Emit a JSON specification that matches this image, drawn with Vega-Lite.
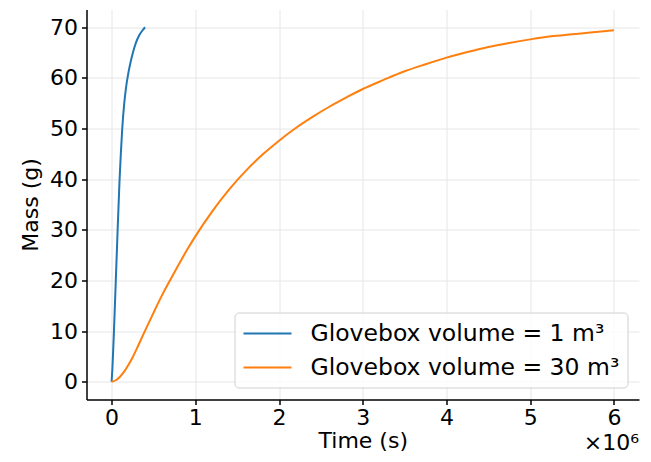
{
  "$schema": "https://vega.github.io/schema/vega-lite/v6.json",
  "width": 552.5,
  "height": 390,
  "autosize": {"type": "none"},
  "padding": {"left": 86.5, "top": 9.5, "right": 12, "bottom": 62.5},
  "background": "white",
  "config": {
    "font": "DejaVu Sans",
    "view": {"stroke": null},
    "axis": {
      "labelFont": "DejaVu Sans", "titleFont": "DejaVu Sans",
      "labelFontSize": 22, "titleFontSize": 22, "titleFontWeight": "normal",
      "labelColor": "#000", "titleColor": "#000",
      "domainColor": "#000", "domainWidth": 1.5,
      "tickColor": "#000", "tickWidth": 1.5, "tickSize": 5,
      "gridColor": "#e6e6e6", "gridWidth": 1
    }
  },
  "datasets": {
    "curves": [
      {"t": 0, "m": 0, "s": "Glovebox volume = 1 m³"},
      {"t": 10000, "m": 2.8, "s": "Glovebox volume = 1 m³"},
      {"t": 28000, "m": 10, "s": "Glovebox volume = 1 m³"},
      {"t": 50000, "m": 20, "s": "Glovebox volume = 1 m³"},
      {"t": 72000, "m": 30, "s": "Glovebox volume = 1 m³"},
      {"t": 94000, "m": 39.5, "s": "Glovebox volume = 1 m³"},
      {"t": 110000, "m": 45, "s": "Glovebox volume = 1 m³"},
      {"t": 127000, "m": 50, "s": "Glovebox volume = 1 m³"},
      {"t": 150000, "m": 54.8, "s": "Glovebox volume = 1 m³"},
      {"t": 170000, "m": 57.8, "s": "Glovebox volume = 1 m³"},
      {"t": 195000, "m": 60.5, "s": "Glovebox volume = 1 m³"},
      {"t": 225000, "m": 63, "s": "Glovebox volume = 1 m³"},
      {"t": 255000, "m": 65, "s": "Glovebox volume = 1 m³"},
      {"t": 290000, "m": 66.9, "s": "Glovebox volume = 1 m³"},
      {"t": 330000, "m": 68.4, "s": "Glovebox volume = 1 m³"},
      {"t": 370000, "m": 69.4, "s": "Glovebox volume = 1 m³"},
      {"t": 400000, "m": 70, "s": "Glovebox volume = 1 m³"},
      {"t": 0, "m": 0, "s": "Glovebox volume = 30 m³"},
      {"t": 50000, "m": 0.3, "s": "Glovebox volume = 30 m³"},
      {"t": 100000, "m": 1.0, "s": "Glovebox volume = 30 m³"},
      {"t": 150000, "m": 2.0, "s": "Glovebox volume = 30 m³"},
      {"t": 200000, "m": 3.3, "s": "Glovebox volume = 30 m³"},
      {"t": 250000, "m": 4.8, "s": "Glovebox volume = 30 m³"},
      {"t": 300000, "m": 6.5, "s": "Glovebox volume = 30 m³"},
      {"t": 350000, "m": 8.3, "s": "Glovebox volume = 30 m³"},
      {"t": 400000, "m": 10.1, "s": "Glovebox volume = 30 m³"},
      {"t": 500000, "m": 13.6, "s": "Glovebox volume = 30 m³"},
      {"t": 600000, "m": 17.0, "s": "Glovebox volume = 30 m³"},
      {"t": 700000, "m": 20.1, "s": "Glovebox volume = 30 m³"},
      {"t": 800000, "m": 23.1, "s": "Glovebox volume = 30 m³"},
      {"t": 900000, "m": 26.0, "s": "Glovebox volume = 30 m³"},
      {"t": 1000000, "m": 28.7, "s": "Glovebox volume = 30 m³"},
      {"t": 1200000, "m": 33.6, "s": "Glovebox volume = 30 m³"},
      {"t": 1400000, "m": 37.9, "s": "Glovebox volume = 30 m³"},
      {"t": 1600000, "m": 41.6, "s": "Glovebox volume = 30 m³"},
      {"t": 1800000, "m": 44.8, "s": "Glovebox volume = 30 m³"},
      {"t": 2000000, "m": 47.6, "s": "Glovebox volume = 30 m³"},
      {"t": 2200000, "m": 50.1, "s": "Glovebox volume = 30 m³"},
      {"t": 2400000, "m": 52.3, "s": "Glovebox volume = 30 m³"},
      {"t": 2600000, "m": 54.3, "s": "Glovebox volume = 30 m³"},
      {"t": 2800000, "m": 56.1, "s": "Glovebox volume = 30 m³"},
      {"t": 3000000, "m": 57.8, "s": "Glovebox volume = 30 m³"},
      {"t": 3250000, "m": 59.6, "s": "Glovebox volume = 30 m³"},
      {"t": 3500000, "m": 61.3, "s": "Glovebox volume = 30 m³"},
      {"t": 3750000, "m": 62.7, "s": "Glovebox volume = 30 m³"},
      {"t": 4000000, "m": 64.0, "s": "Glovebox volume = 30 m³"},
      {"t": 4250000, "m": 65.1, "s": "Glovebox volume = 30 m³"},
      {"t": 4500000, "m": 66.1, "s": "Glovebox volume = 30 m³"},
      {"t": 4750000, "m": 66.9, "s": "Glovebox volume = 30 m³"},
      {"t": 5000000, "m": 67.6, "s": "Glovebox volume = 30 m³"},
      {"t": 5250000, "m": 68.2, "s": "Glovebox volume = 30 m³"},
      {"t": 5500000, "m": 68.6, "s": "Glovebox volume = 30 m³"},
      {"t": 5750000, "m": 69.0, "s": "Glovebox volume = 30 m³"},
      {"t": 6000000, "m": 69.4, "s": "Glovebox volume = 30 m³"}
    ],
    "offset": [{"t": 6300000, "m": -3.5, "label": "×10⁶"}]
  },
  "layer": [
    {
      "data": {"name": "curves"},
      "mark": {"type": "line", "strokeWidth": 2, "interpolate": "monotone"},
      "encoding": {
        "x": {
          "field": "t", "type": "quantitative",
          "scale": {"domain": [-300000, 6300000], "nice": false, "zero": false},
          "axis": {
            "title": "Time (s)", "values": [0, 1000000, 2000000, 3000000, 4000000, 5000000, 6000000],
            "labelExpr": "format(datum.value / 1000000, 'd')",
            "labelPadding": 3, "titlePadding": 2, "grid": true
          }
        },
        "y": {
          "field": "m", "type": "quantitative",
          "scale": {"domain": [-3.5, 73.5], "nice": false, "zero": false},
          "axis": {
            "title": "Mass (g)", "values": [0, 10, 20, 30, 40, 50, 60, 70],
            "labelPadding": 4, "titlePadding": 7, "grid": true
          }
        },
        "color": {
          "field": "s", "type": "nominal",
          "scale": {"domain": ["Glovebox volume = 1 m³", "Glovebox volume = 30 m³"], "range": ["#1f77b4", "#ff7f0e"]},
          "legend": {
            "title": null, "orient": "bottom-right", "offset": 12,
            "symbolType": "M-1,0H3", "symbolSize": 576, "symbolStrokeWidth": 2,
            "labelFont": "DejaVu Sans", "labelFontSize": 23.5, "labelColor": "#000",
            "fillColor": "rgba(255,255,255,0.8)", "strokeColor": "#d0d0d0", "cornerRadius": 4,
            "padding": 8, "rowPadding": 9, "labelOffset": 42, "labelLimit": 400
          }
        }
      }
    },
    {
      "data": {"name": "offset"},
      "mark": {"type": "text", "align": "right", "baseline": "bottom", "dy": 55, "font": "DejaVu Sans", "fontSize": 22, "color": "#000"},
      "encoding": {
        "x": {"field": "t", "type": "quantitative"},
        "y": {"field": "m", "type": "quantitative"},
        "text": {"field": "label"}
      }
    }
  ]
}
